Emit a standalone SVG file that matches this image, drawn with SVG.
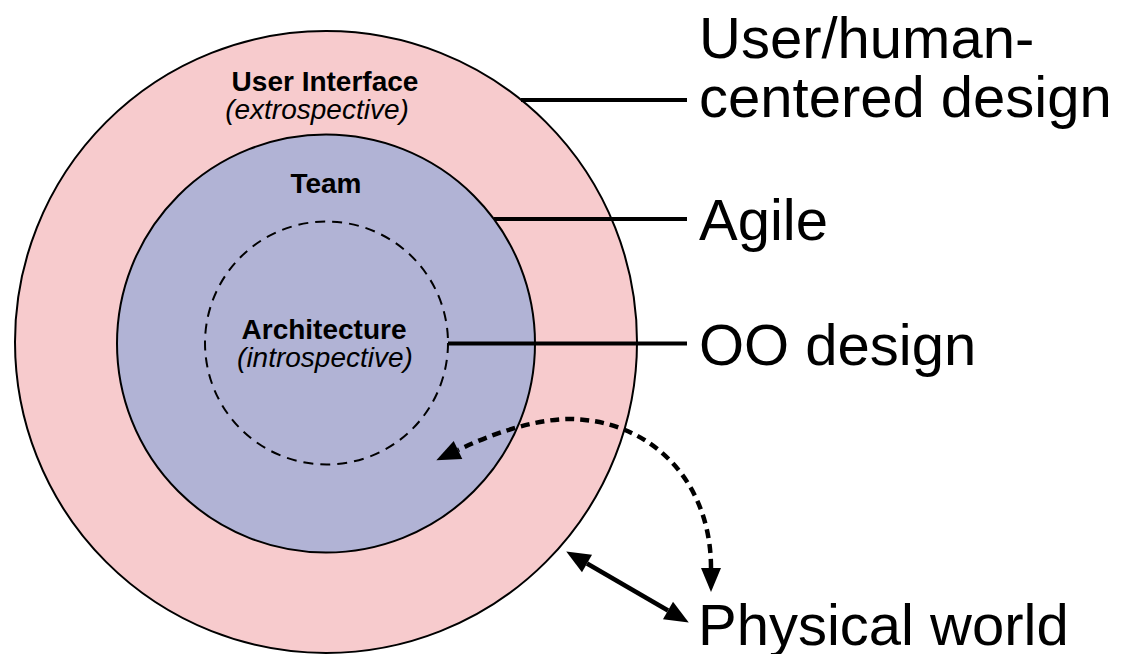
<svg xmlns="http://www.w3.org/2000/svg" width="1121" height="654" viewBox="0 0 1121 654">
  <style>
    .ring { stroke: #000; stroke-width: 2; }
    .lbl { font-family: "Liberation Sans", Arial, sans-serif; fill: #000; }
    .in { font-size: 28px; text-anchor: middle; }
    .b { font-weight: bold; }
    .i { font-style: italic; }
    .big { font-size: 58px; }
    .lead { stroke: #000; stroke-width: 4; fill: none; }
    .arr { stroke: #000; stroke-width: 4.5; fill: none; }
  </style>
  <defs>
    <marker id="head" markerUnits="userSpaceOnUse" markerWidth="30" markerHeight="24" refX="0" refY="10" orient="auto-start-reverse" overflow="visible">
      <path d="M0,0 L24,10 L0,20 Z" fill="#000" stroke="none"/>
    </marker>
  </defs>
  <rect width="1121" height="654" fill="#fff"/>
  <g id="user-interface">
    <circle class="ring" cx="326" cy="342" r="311" fill="#f7cbcd"/>
    <text class="lbl in b" x="325" y="91">User Interface</text>
    <text class="lbl in i" x="317" y="119">(extrospective)</text>
  </g>
  <g id="team">
    <circle class="ring" cx="326" cy="343.5" r="209" fill="#b1b3d5"/>
    <text class="lbl in b" x="326" y="193">Team</text>
  </g>
  <g id="architecture">
    <circle cx="326.5" cy="343" r="121.5" fill="none" stroke="#000" stroke-width="2" stroke-dasharray="10 7"/>
    <text class="lbl in b" x="324" y="339">Architecture</text>
    <text class="lbl in i" x="325" y="367">(introspective)</text>
  </g>
  <g id="label-ucd">
    <text class="lbl big" x="699" y="58">User/human-</text>
    <text class="lbl big" x="699" y="117">centered design</text>
  </g>
  <g id="label-agile">
    <text class="lbl big" x="699" y="240">Agile</text>
  </g>
  <g id="label-oo">
    <text class="lbl big" x="699" y="365">OO design</text>
  </g>
  <g id="label-physical">
    <text class="lbl big" x="698" y="645">Physical world</text>
  </g>
  <g id="connectors">
    <line class="lead" x1="521" y1="100" x2="687" y2="100"/>
    <line class="lead" x1="494" y1="219" x2="687" y2="219"/>
    <line class="lead" x1="448" y1="343.5" x2="687" y2="343.5"/>
    <path class="arr" stroke-dasharray="9 6" d="M711,568 C711,480 650,420 570,419 C540,419 500,430 458,450" marker-start="url(#head)" marker-end="url(#head)"/>
    <line class="arr" stroke-width="4" x1="587" y1="563.5" x2="668" y2="610.5" marker-start="url(#head)" marker-end="url(#head)"/>
  </g>
</svg>
